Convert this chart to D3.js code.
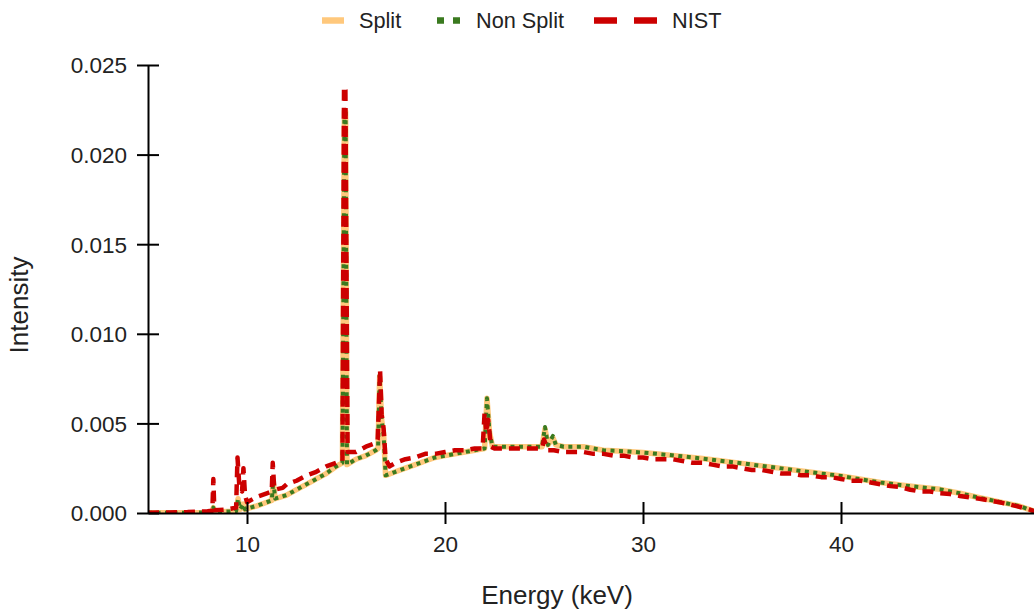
<!DOCTYPE html>
<html>
<head>
<meta charset="utf-8">
<script src="https://cdn.jsdelivr.net/npm/d3@7"></script>
<style>
  html, body { margin: 0; padding: 0; background: #fff; }
  svg { display: block; font-family: "Liberation Sans", Arial, sans-serif; }
</style>
</head>
<body>
<svg id="chart" width="1034" height="613"></svg>
<script>
// Simulated spectrum (split and non-split models share the energy grid)
const simEnergy = [5.0, 6.0, 7.0, 8.0, 8.22, 8.3, 8.38, 9.0, 9.45, 9.55, 9.65, 9.82, 9.9, 10.0, 10.5, 11.0, 11.25, 11.33, 11.42, 12.0, 12.5, 13.0, 13.5, 14.0, 14.5, 14.82, 14.92, 14.98, 15.05, 15.5, 16.0, 16.5, 16.62, 16.7, 16.8, 16.9, 17.0, 17.5, 18.0, 18.5, 19.0, 19.5, 20.0, 20.5, 21.0, 21.5, 22.0, 22.12, 22.25, 22.4, 23.0, 24.0, 24.9, 25.05, 25.2, 25.45, 25.6, 26.0, 27.0, 28.0, 29.0, 30.0, 31.0, 32.0, 33.0, 34.0, 35.0, 36.0, 37.0, 38.0, 39.0, 40.0, 41.0, 42.0, 43.0, 44.0, 45.0, 46.0, 47.0, 48.0, 49.0, 50.0];
const splitValues = [0.00001, 0.00001, 0.00002, 0.00003, 0.00004, 0.0003, 0.00005, 0.00008, 0.0001, 0.0008, 0.0002, 0.0005, 0.0002, 0.00025, 0.0004, 0.0006, 0.0007, 0.0017, 0.0008, 0.0010, 0.0013, 0.0016, 0.0019, 0.0022, 0.0026, 0.0028, 0.0224, 0.0224, 0.0027, 0.0030, 0.0032, 0.0035, 0.0036, 0.0076, 0.0052, 0.0044, 0.0021, 0.0023, 0.0025, 0.0027, 0.0029, 0.0031, 0.0032, 0.0033, 0.0034, 0.0035, 0.0036, 0.0064, 0.0045, 0.0037, 0.0037, 0.0037, 0.0037, 0.0047, 0.0038, 0.0042, 0.0038, 0.0037, 0.0037, 0.0035, 0.00345, 0.00337, 0.00327, 0.00316, 0.00304, 0.0029, 0.00277, 0.00263, 0.00249, 0.00234, 0.0022, 0.00207, 0.00188, 0.0017, 0.00156, 0.00144, 0.00132, 0.0011, 0.00085, 0.00062, 0.00039, 0];
const nonSplitValues = [0.00001, 0.00001, 0.00002, 0.00003, 0.00004, 0.0003, 0.00005, 0.00008, 0.0001, 0.0008, 0.0002, 0.0005, 0.0002, 0.00025, 0.0004, 0.0006, 0.0007, 0.0018, 0.0008, 0.0010, 0.0013, 0.0016, 0.0019, 0.0022, 0.0026, 0.0028, 0.0225, 0.0225, 0.0027, 0.0030, 0.0032, 0.0035, 0.0036, 0.0077, 0.0052, 0.0044, 0.0021, 0.0023, 0.0025, 0.0027, 0.0029, 0.0031, 0.0032, 0.0033, 0.0034, 0.0035, 0.0036, 0.0064, 0.0045, 0.0037, 0.0037, 0.0037, 0.0037, 0.0048, 0.0038, 0.0043, 0.0038, 0.0037, 0.0037, 0.0035, 0.00345, 0.00337, 0.00327, 0.00316, 0.00304, 0.0029, 0.00277, 0.00263, 0.00249, 0.00234, 0.0022, 0.00207, 0.00188, 0.0017, 0.00156, 0.00144, 0.00132, 0.0011, 0.00085, 0.00062, 0.00039, 0];

// Reference spectrum
const nistEnergy = [5.0, 6.0, 7.0, 8.0, 8.25, 8.3, 8.35, 9.0, 9.45, 9.52, 9.62, 9.75, 9.82, 9.9, 10.0, 10.5, 11.0, 11.25, 11.3, 11.38, 11.8, 12.0, 12.5, 13.0, 13.5, 14.0, 14.5, 14.82, 14.9, 14.97, 15.08, 15.5, 16.0, 16.5, 16.6, 16.72, 16.8, 16.9, 17.0, 17.2, 17.5, 18.0, 18.5, 19.0, 19.5, 20.0, 20.5, 21.0, 21.5, 21.9, 22.0, 22.08, 22.18, 22.32, 22.5, 23.0, 23.5, 24.0, 24.5, 24.9, 25.0, 25.2, 25.5, 26.0, 26.5, 27.0, 27.5, 28.0, 28.5, 29.0, 29.5, 30.0, 30.5, 31.0, 31.5, 32.0, 32.5, 33.0, 33.5, 34.0, 34.5, 35.0, 35.5, 36.0, 36.5, 37.0, 37.5, 38.0, 38.5, 39.0, 39.5, 40.0, 40.5, 41.0, 41.5, 42.0, 42.5, 43.0, 43.5, 44.0, 44.5, 45.0, 45.5, 46.0, 46.5, 47.0, 47.5, 48.0, 48.5, 49.0, 49.5, 50.0];
const nistValues = [0.00002, 0.00003, 0.00005, 0.0001, 0.00012, 0.0019, 0.00015, 0.0002, 0.0003, 0.0031, 0.0014, 0.0012, 0.0025, 0.0010, 0.0006, 0.0009, 0.0011, 0.0012, 0.0028, 0.0013, 0.0014, 0.0016, 0.0018, 0.0021, 0.0023, 0.0026, 0.0028, 0.0029, 0.0238, 0.0236, 0.0034, 0.0034, 0.0037, 0.0039, 0.0041, 0.0080, 0.0055, 0.0047, 0.0030, 0.0026, 0.0028, 0.0030, 0.0031, 0.0033, 0.0033, 0.0034, 0.0035, 0.0035, 0.0036, 0.0036, 0.0056, 0.0045, 0.0052, 0.0037, 0.0036, 0.0036, 0.0036, 0.0036, 0.0036, 0.0036, 0.0041, 0.0035, 0.0035, 0.0034, 0.0034, 0.0034, 0.0033, 0.0033, 0.0032, 0.0032, 0.0031, 0.0031, 0.0030, 0.0030, 0.0030, 0.0029, 0.0028, 0.0028, 0.0027, 0.0026, 0.0026, 0.0025, 0.0024, 0.0024, 0.0023, 0.0022, 0.0022, 0.0021, 0.0021, 0.0020, 0.0020, 0.0019, 0.0018, 0.0018, 0.0017, 0.0016, 0.0015, 0.00145, 0.0013, 0.0012, 0.0012, 0.0011, 0.00106, 0.00095, 0.00087, 0.0008, 0.0007, 0.0006, 0.00048, 0.00035, 0.0002, 0];

const xTickValues = [10, 20, 30, 40];
const yTickValues = [0, 0.005, 0.010, 0.015, 0.020, 0.025];
const seriesNames = ["Split", "Non Split", "NIST"];

const svg = d3.select("#chart");
const plotLeft = 148, plotRight = 1039, plotTop = 65, plotBottom = 513;
const tickFont = 22.5, legendFont = 21.7, titleFont = 26;

const x = d3.scaleLinear().domain([5, 50]).range([plotLeft, plotRight]);
const y = d3.scaleLinear().domain([0, 0.025]).range([plotBottom, plotTop]);

svg.append("clipPath").attr("id", "plotclip")
  .append("rect").attr("x", plotLeft).attr("y", 0)
  .attr("width", plotRight - plotLeft).attr("height", plotBottom);

const line = d3.line().x(d => x(d[0])).y(d => y(d[1]));
const zipSeries = (es, vs) => es.map((e, i) => [e, vs[i]]);

const plot = svg.append("g").attr("clip-path", "url(#plotclip)");

plot.append("path")
  .datum(zipSeries(simEnergy, splitValues))
  .attr("d", line)
  .attr("fill", "none")
  .attr("stroke", "#ffc87c")
  .attr("stroke-width", 5.5)
  .attr("stroke-linejoin", "round");

plot.append("path")
  .datum(zipSeries(simEnergy, nonSplitValues))
  .attr("d", line)
  .attr("fill", "none")
  .attr("stroke", "#3a7a1f")
  .attr("stroke-width", 4)
  .attr("stroke-dasharray", "4,4.5")
  .attr("stroke-linejoin", "round");

plot.append("path")
  .datum(zipSeries(nistEnergy, nistValues))
  .attr("d", line)
  .attr("fill", "none")
  .attr("stroke", "#cc0000")
  .attr("stroke-width", 4.5)
  .attr("stroke-dasharray", "11,7")
  .attr("stroke-linejoin", "round");

// Axes with ticks crossing the axis line
const xAxis = svg.append("g")
  .attr("transform", `translate(0,${plotBottom})`)
  .call(d3.axisBottom(x).tickValues(xTickValues).tickSizeOuter(0).tickFormat(d3.format("d")));
xAxis.select(".domain").attr("stroke", "#000").attr("stroke-width", 2);
xAxis.selectAll(".tick line").attr("y1", -11).attr("y2", 11).attr("stroke", "#000").attr("stroke-width", 2);
xAxis.selectAll(".tick text")
  .attr("y", 23).attr("dy", "0.71em")
  .attr("font-size", tickFont).attr("fill", "#222")
  .attr("font-family", "Liberation Sans, Arial, sans-serif");

const yAxis = svg.append("g")
  .attr("transform", `translate(${plotLeft},0)`)
  .call(d3.axisLeft(y).tickValues(yTickValues).tickSizeOuter(0).tickFormat(d3.format(".3f")));
yAxis.select(".domain").attr("stroke", "#000").attr("stroke-width", 2);
yAxis.selectAll(".tick line").attr("x1", -11).attr("x2", 11).attr("stroke", "#000").attr("stroke-width", 2);
yAxis.selectAll(".tick text")
  .attr("x", -21).attr("dy", "0.35em")
  .attr("font-size", tickFont).attr("fill", "#222")
  .attr("font-family", "Liberation Sans, Arial, sans-serif");

// Axis titles
svg.append("text")
  .attr("x", 557).attr("y", 604)
  .attr("text-anchor", "middle")
  .attr("font-size", titleFont).attr("fill", "#222")
  .text("Energy (keV)");

svg.append("text")
  .attr("transform", "translate(28,305) rotate(-90)")
  .attr("text-anchor", "middle")
  .attr("font-size", titleFont).attr("fill", "#222")
  .text("Intensity");

// Legend
const legend = svg.append("g");
const legendY = 20.5;
legend.append("line").attr("x1", 322).attr("x2", 344).attr("y1", legendY).attr("y2", legendY)
  .attr("stroke", "#ffc87c").attr("stroke-width", 6.5);
legend.append("text").attr("x", 359).attr("y", 27.5).attr("font-size", legendFont).attr("fill", "#222").text(seriesNames[0]);

legend.append("line").attr("x1", 437).attr("x2", 461).attr("y1", legendY).attr("y2", legendY)
  .attr("stroke", "#3a7a1f").attr("stroke-width", 6.5).attr("stroke-dasharray", "7,9");
legend.append("text").attr("x", 476).attr("y", 27.5).attr("font-size", legendFont).attr("fill", "#222").text(seriesNames[1]);

legend.append("line").attr("x1", 594).attr("x2", 658).attr("y1", legendY).attr("y2", legendY)
  .attr("stroke", "#cc0000").attr("stroke-width", 6.5).attr("stroke-dasharray", "23,17");
legend.append("text").attr("x", 672).attr("y", 27.5).attr("font-size", legendFont).attr("fill", "#222").text(seriesNames[2]);
</script>
</body>
</html>
